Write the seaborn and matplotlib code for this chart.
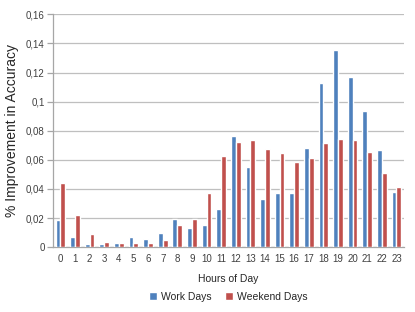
import pandas as pd
import matplotlib
matplotlib.use("Agg")
import matplotlib.pyplot as plt
import seaborn as sns

# valeurs
hours = list(range(24))
work_days = [0.0188, 0.0071, 0.0021, 0.0018, 0.0025, 0.0072, 0.0058, 0.0099,
             0.0195, 0.0128, 0.0153, 0.0261, 0.0765, 0.0550, 0.0330, 0.0371,
             0.0371, 0.0683, 0.1130, 0.1356, 0.1168, 0.0937, 0.0668, 0.0380]
weekend_days = [0.0444, 0.0222, 0.0093, 0.0037, 0.0025, 0.0029, 0.0025, 0.0051,
                0.0149, 0.0195, 0.0375, 0.0627, 0.0720, 0.0735, 0.0674, 0.0646,
                0.0584, 0.0610, 0.0715, 0.0744, 0.0733, 0.0655, 0.0506, 0.0412]
y_ticks = [0, 0.02, 0.04, 0.06, 0.08, 0.1, 0.12, 0.14, 0.16]
y_labels = ["0", "0,02", "0,04", "0,06", "0,08", "0,1", "0,12", "0,14", "0,16"]

df = pd.DataFrame({
    "hour": hours * 2,
    "value": work_days + weekend_days,
    "series": ["Work Days"] * 24 + ["Weekend Days"] * 24,
})

sns.set_style("white")
plt.rcParams["font.family"] = ["Liberation Sans", "DejaVu Sans"]

fig = plt.figure(figsize=(4.15, 3.12), dpi=100)
ax = fig.add_axes([0.128, 0.208, 0.845, 0.746])

sns.barplot(data=df, x="hour", y="value", hue="series",
            palette=["#4F81BD", "#C0504D"], width=0.66, saturation=1,
            ax=ax, zorder=3)

ax.set_ylim(0, 0.16)
ax.set_xlim(-0.5, 23.5)
ax.set_yticks(y_ticks)
ax.set_yticklabels(y_labels)
ax.yaxis.grid(True, color="#BFBFBF", linewidth=0.9, zorder=0)
ax.set_axisbelow(True)

for s in ["top", "right"]:
    ax.spines[s].set_visible(False)
for s in ["left", "bottom"]:
    ax.spines[s].set_color("#A6A6A6")
    ax.spines[s].set_linewidth(0.9)

# ticks entre les catégories, comme dans Excel
ax.set_xticks(hours)
ax.set_xticklabels([str(h) for h in hours])
ax.set_xticks([h - 0.5 for h in range(25)], minor=True)
ax.tick_params(axis="x", which="major", length=0, pad=5, labelsize=7, labelcolor="#404040")
ax.tick_params(axis="x", which="minor", length=4, color="#A6A6A6", width=0.9)
ax.tick_params(axis="y", length=4, color="#A6A6A6", width=0.9, labelsize=7,
               labelcolor="#404040", left=True, pad=2)

ax.set_xlabel("Hours of Day", fontsize=7.5, labelpad=7)
ax.set_ylabel("% Improvement in Accuracy", fontsize=10, labelpad=5)

handles, labels = ax.get_legend_handles_labels()
ax.get_legend().remove()
fig.legend(handles, labels, loc="center", bbox_to_anchor=(0.55, 0.048), ncol=2,
           frameon=False, fontsize=7.5, handlelength=0.8, handleheight=0.8,
           handletextpad=0.4, columnspacing=1.2)

fig.savefig("out.png", dpi=100)
